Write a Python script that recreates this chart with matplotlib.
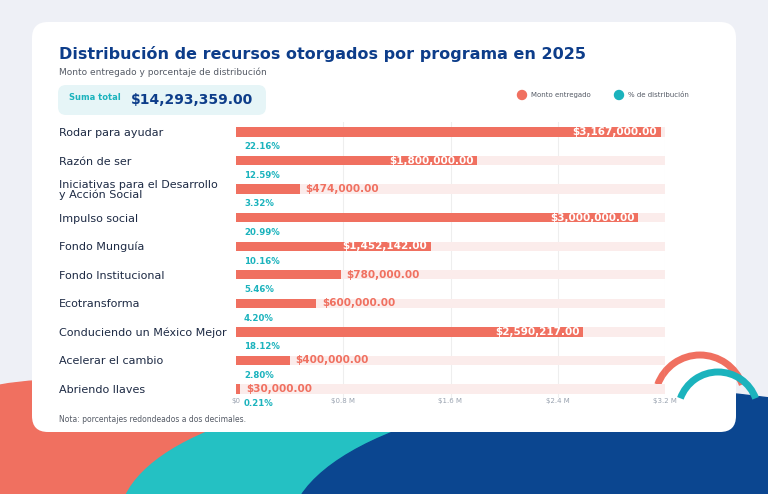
import matplotlib
matplotlib.use('Agg')
import matplotlib.pyplot as plt
from matplotlib.patches import FancyBboxPatch, Ellipse, Arc, Circle

plt.rcParams['font.family'] = ['DejaVu Sans']

programas = ["Rodar para ayudar", "Razón de ser", "Iniciativas para el Desarrollo\ny Acción Social",
             "Impulso social", "Fondo Munguía", "Fondo Institucional", "Ecotransforma",
             "Conduciendo un México Mejor", "Acelerar el cambio", "Abriendo llaves"]
montos = [3167000, 1800000, 474000, 3000000, 1452142, 780000, 600000, 2590217, 400000, 30000]
porcentajes = [22.16, 12.59, 3.32, 20.99, 10.16, 5.46, 4.20, 18.12, 2.80, 0.21]
ticks = [0, 800000, 1600000, 2400000, 3200000]
tick_labels = ["$0", "$0.8 M", "$1.6 M", "$2.4 M", "$3.2 M"]

CORAL = "#f07060"
TEAL = "#1bb3bd"
NAVY = "#0d3d8a"
W, H = 768, 494

fig = plt.figure(figsize=(W / 100, H / 100), dpi=100)
fig.patch.set_facecolor("#eef0f6")

# background decoration in pixel coords
bg = fig.add_axes([0, 0, 1, 1])
bg.set_xlim(0, W)
bg.set_ylim(H, 0)
bg.axis('off')
bg.add_patch(Ellipse((60, 500), 420, 240, color=CORAL, zorder=1))
bg.add_patch(Ellipse((420, 520), 600, 250, color="#24c1c3", zorder=2))
bg.add_patch(Ellipse((650, 530), 720, 280, color="#0b4690", zorder=3))
bg.add_patch(FancyBboxPatch((32, 22), 704, 410, boxstyle="round,pad=0,rounding_size=16",
                            fc="white", ec="none", zorder=4))
bg.add_patch(FancyBboxPatch((58, 85), 208, 30, boxstyle="round,pad=0,rounding_size=8",
                            fc="#e6f5f7", ec="none", zorder=5))
bg.add_patch(Arc((700, 400), 90, 90, theta1=200, theta2=340, lw=5, color=CORAL, zorder=6))
bg.add_patch(Arc((718, 412), 80, 80, theta1=200, theta2=340, lw=5, color=TEAL, zorder=6))
bg.add_patch(Circle((522, 95), 4.5, color=CORAL, zorder=6))
bg.add_patch(Circle((619, 95), 4.5, color=TEAL, zorder=6))

fig.text(59 / W, 1 - 54 / H, "Distribución de recursos otorgados por programa en 2025",
         fontsize=11.5, fontweight='bold', color=NAVY, va='center')
fig.text(59 / W, 1 - 72 / H, "Monto entregado y porcentaje de distribución",
         fontsize=6.5, color="#555b66", va='center')
fig.text(69 / W, 1 - 98 / H, "Suma total", fontsize=6, fontweight='bold', color=TEAL, va='center')
fig.text(131 / W, 1 - 100 / H, "$14,293,359.00", fontsize=10, fontweight='bold', color=NAVY, va='center')
fig.text(531 / W, 1 - 95 / H, "Monto entregado", fontsize=5, color="#555b66", va='center')
fig.text(628 / W, 1 - 95 / H, "% de distribución", fontsize=5, color="#555b66", va='center')
fig.text(59 / W, 1 - 419 / H, "Nota: porcentajes redondeados a dos decimales.", fontsize=5.5,
         color="#555b66", va='center')

# main chart axes
top, bottom = 122, 398
ax = fig.add_axes([236 / W, 1 - bottom / H, (665 - 236) / W, (bottom - top) / H])
ax.set_facecolor("none")
sp = 28.56
ax.set_xlim(0, 3200000)
ax.set_ylim(9 + (bottom - 389) / sp, -(132 - top) / sp)
for s in ax.spines.values():
    s.set_visible(False)
ax.set_xticks(ticks)
ax.set_xticklabels(tick_labels, fontsize=5, color="#9aa3b0")
ax.tick_params(length=0, pad=0)
ax.set_yticks([])
for t in ticks[1:]:
    ax.axvline(t, color="#eeeeee", lw=0.8, zorder=0)

ypos = list(range(len(montos)))
ax.barh(ypos, [3200000] * len(montos), height=0.33, color="#fbeceb", zorder=1)
ax.barh(ypos, montos, height=0.33, color=CORAL, zorder=2)
for i, (m, p, name) in enumerate(zip(montos, porcentajes, programas)):
    lbl = f"${m:,.2f}"
    if m > 1000000:
        ax.text(m - 25000, i, lbl, ha='right', va='center', fontsize=7.5,
                fontweight='bold', color='white', zorder=3)
    else:
        ax.text(m + 45000, i, lbl, ha='left', va='center', fontsize=7.5,
                fontweight='bold', color=CORAL, zorder=3)
    ax.text(60000, i + 0.52, f"{p:.2f}%", ha='left', va='center', fontsize=6.2,
            fontweight='bold', color=TEAL, zorder=3)
    fig.text(59 / W, 1 - (133 + i * sp) / H, name, fontsize=8, color="#1d2a44",
             va='center', linespacing=1.0)

fig.savefig("out.png", dpi=100, facecolor=fig.get_facecolor())
